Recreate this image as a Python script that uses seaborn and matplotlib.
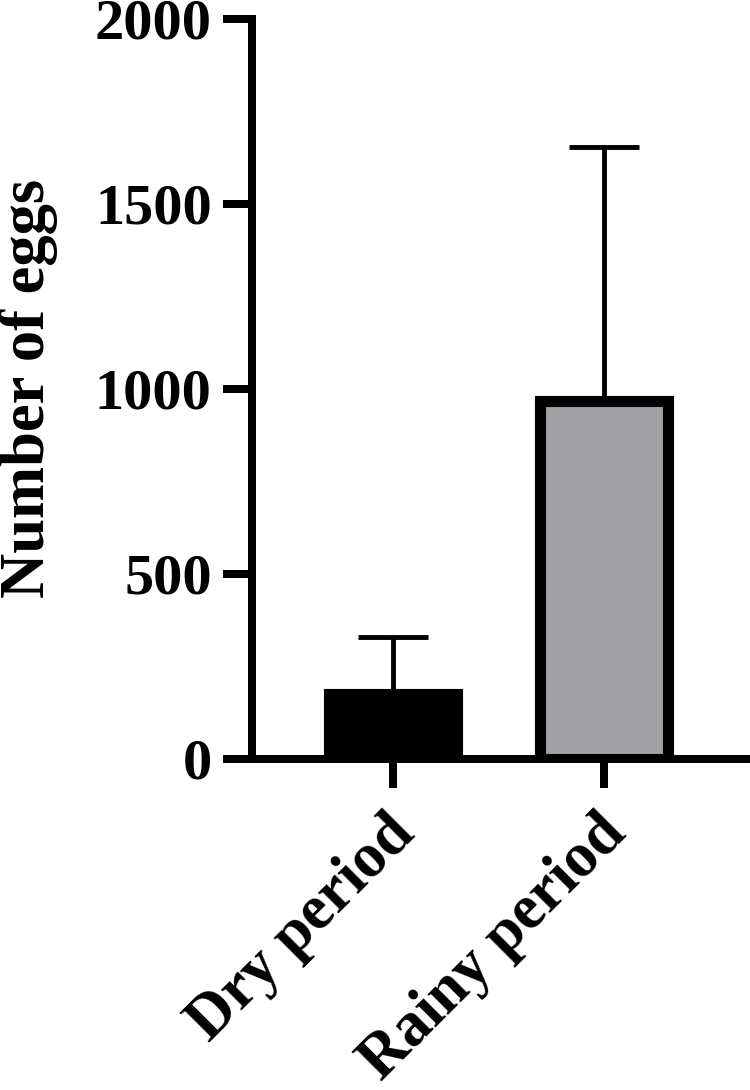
import matplotlib
matplotlib.use("Agg")
import matplotlib.pyplot as plt
from matplotlib.transforms import ScaledTranslation
import seaborn as sns
import pandas as pd

categories = ["Dry period", "Rainy period"]
means = [176, 968]
sds = [154, 685]
bar_colors = ["#000000", "#a1a0a5"]
y_ticks = [0, 500, 1000, 1500, 2000]

sns.set_theme(style="white")
plt.rcParams["font.family"] = ["Liberation Serif", "DejaVu Serif"]
plt.rcParams["font.weight"] = "bold"
plt.rcParams["text.color"] = "black"
plt.rcParams["axes.labelcolor"] = "black"
plt.rcParams["xtick.color"] = "black"
plt.rcParams["ytick.color"] = "black"

df = pd.DataFrame({"period": categories, "eggs": means})

fig = plt.figure(figsize=(7.5, 10.9), dpi=100)
ax = fig.add_axes([0.336, 0.3037, 0.661, 0.6793])

sns.barplot(data=df, x="period", y="eggs", hue="period", palette=bar_colors,
            legend=False, width=0.607, edgecolor="black", linewidth=8,
            errorbar=None, ax=ax, zorder=3, saturation=1)

ax.errorbar(x=range(len(categories)), y=means, yerr=[[0] * len(sds), sds],
            fmt="none", ecolor="black", elinewidth=3.5, capsize=25,
            capthick=3.5, zorder=2)

ax.set_ylim(0, 2000)
ax.set_xlim(-0.668, 1.682)

for s in ["top", "right"]:
    ax.spines[s].set_visible(False)
for s in ["left", "bottom"]:
    ax.spines[s].set_linewidth(5.76)
    ax.spines[s].set_color("black")

ax.tick_params(axis="both", direction="out", length=21, width=5.76,
               color="black", left=True, bottom=True)
ax.tick_params(axis="y", pad=8)
ax.tick_params(axis="x", pad=14)

ax.set_yticks(y_ticks)
ax.set_yticklabels([str(t) for t in y_ticks], fontsize=42, fontweight="bold",
                   color="black")
ax.set_xticks(range(len(categories)))
ax.set_xticklabels(categories, fontsize=45, fontweight="bold", rotation=45,
                   ha="right", va="center", rotation_mode="anchor",
                   color="black")
offset = ScaledTranslation(0.13, -0.17, fig.dpi_scale_trans)
for lab in ax.get_xticklabels():
    lab.set_transform(lab.get_transform() + offset)

ax.set_xlabel("")
ax.set_ylabel("Number of eggs", fontsize=45, fontweight="bold", color="black")
ax.yaxis.set_label_coords(-0.392, 0.50)

fig.savefig("out.png", dpi=100, facecolor="white")
